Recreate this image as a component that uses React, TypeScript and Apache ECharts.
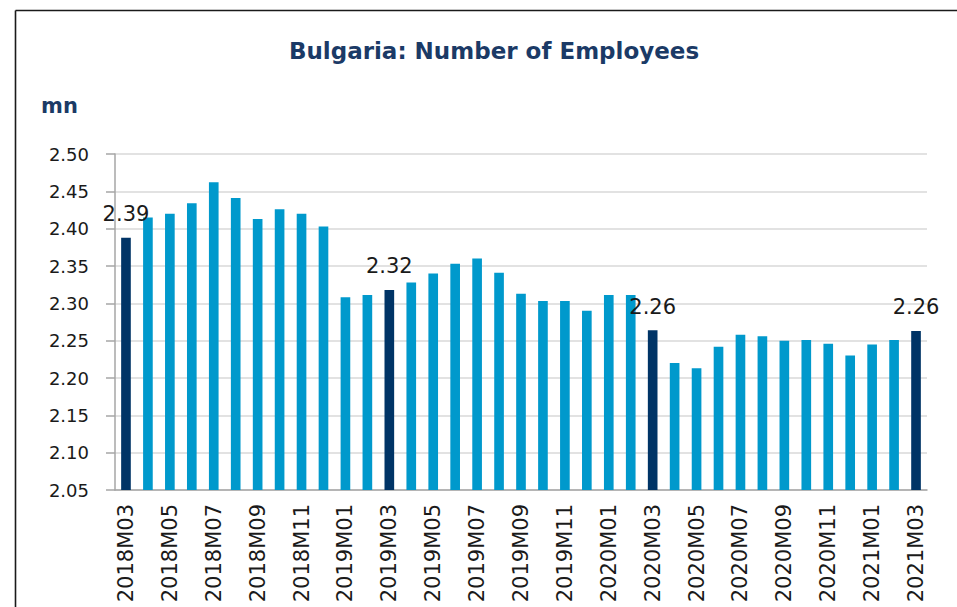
import React, { useEffect, useRef } from "react";
import * as echarts from "echarts";

const categories: string[] = [
  "2018M03", "2018M04", "2018M05", "2018M06", "2018M07", "2018M08", "2018M09", "2018M10", "2018M11", "2018M12",
  "2019M01", "2019M02", "2019M03", "2019M04", "2019M05", "2019M06", "2019M07", "2019M08", "2019M09", "2019M10", "2019M11", "2019M12",
  "2020M01", "2020M02", "2020M03", "2020M04", "2020M05", "2020M06", "2020M07", "2020M08", "2020M09", "2020M10", "2020M11", "2020M12",
  "2021M01", "2021M02", "2021M03",
];

const employees: number[] = [
  2.388, 2.415, 2.42, 2.434, 2.462, 2.441, 2.413, 2.426, 2.42, 2.403,
  2.308, 2.311, 2.318, 2.328, 2.34, 2.353, 2.36, 2.341, 2.313, 2.303, 2.303, 2.29,
  2.311, 2.311, 2.264, 2.22, 2.213, 2.242, 2.258, 2.256, 2.25, 2.251, 2.246, 2.23,
  2.245, 2.251, 2.263,
];

const yTicks = { min: 2.05, max: 2.5, step: 0.05 };
const titleText = "Bulgaria: Number of Employees";
const unitText = "mn";

const DARK = "#003466";
const LIGHT = "#0099CC";

export default function App() {
  const ref = useRef<HTMLDivElement>(null);
  useEffect(() => {
    if (!ref.current) return;
    const chart = echarts.init(ref.current, undefined, { renderer: "svg" });
    const data = employees.map((v, i) => {
      const isMarch = categories[i].endsWith("M03");
      return {
        value: v,
        itemStyle: { color: isMarch ? DARK : LIGHT },
        label: {
          show: isMarch,
          position: "top",
          distance: 13,
          formatter: (p: any) => Number(p.value).toFixed(2),
          fontFamily: "DejaVu Sans",
          fontSize: 21,
          color: "#1a1a1a",
        },
      };
    });
    chart.setOption({
      animation: false,
      backgroundColor: "#ffffff",
      grid: { left: 115, right: 30, top: 154, bottom: 117, containLabel: false },
      graphic: [
        {
          type: "line",
          shape: { x1: 15.5, y1: 10.5, x2: 957, y2: 10.5 },
          style: { stroke: "#1a1a1a", lineWidth: 1.6 },
        },
        {
          type: "line",
          shape: { x1: 15.5, y1: 10.5, x2: 15.5, y2: 607 },
          style: { stroke: "#1a1a1a", lineWidth: 1.6 },
        },
        {
          type: "text",
          x: 494,
          y: 51,
          style: {
            text: titleText,
            fontFamily: "DejaVu Sans",
            fontWeight: "bold",
            fontSize: 23,
            fill: "#1B3A66",
            textAlign: "center",
            textVerticalAlign: "middle",
          },
        },
        {
          type: "text",
          x: 41,
          y: 106,
          style: {
            text: unitText,
            fontFamily: "DejaVu Sans",
            fontWeight: "bold",
            fontSize: 21,
            fill: "#1B3A66",
            textAlign: "left",
            textVerticalAlign: "middle",
          },
        },
      ],
      xAxis: {
        type: "category",
        data: categories,
        boundaryGap: true,
        axisLine: { lineStyle: { color: "#A6A6A6", width: 1.5 } },
        axisTick: { show: false },
        axisLabel: {
          interval: 1,
          rotate: 90,
          margin: 14,
          fontFamily: "DejaVu Sans",
          fontSize: 21,
          color: "#1a1a1a",
        },
        splitLine: { show: false },
      },
      yAxis: {
        type: "value",
        min: yTicks.min,
        max: yTicks.max,
        interval: yTicks.step,
        axisLine: { show: true, lineStyle: { color: "#A6A6A6", width: 1.5 } },
        axisTick: { show: true, length: 9, lineStyle: { color: "#A6A6A6", width: 1.5 } },
        axisLabel: {
          margin: 26,
          fontFamily: "DejaVu Sans",
          fontSize: 18,
          color: "#1a1a1a",
          formatter: (v: number) => v.toFixed(2),
        },
        splitLine: { show: true, lineStyle: { color: "#D9D9D9", width: 1.5 } },
      },
      series: [
        {
          type: "bar",
          data,
          barWidth: "44%",
        },
      ],
    });
    return () => chart.dispose();
  }, []);
  return (
    <div
      ref={ref}
      style={{ position: "absolute", left: 0, top: 0, width: 957, height: 607 }}
    />
  );
}
